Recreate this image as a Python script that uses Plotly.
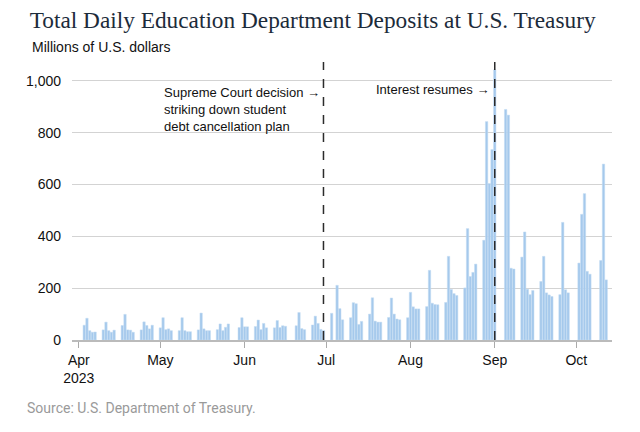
import plotly.graph_objects as go

# --- DATA (millions of U.S. dollars, business days) ---
dates = [
    "2023-04-03", "2023-04-04", "2023-04-05", "2023-04-06", "2023-04-07",
    "2023-04-10", "2023-04-11", "2023-04-12", "2023-04-13", "2023-04-14",
    "2023-04-17", "2023-04-18", "2023-04-19", "2023-04-20", "2023-04-21",
    "2023-04-24", "2023-04-25", "2023-04-26", "2023-04-27", "2023-04-28",
    "2023-05-01", "2023-05-02", "2023-05-03", "2023-05-04", "2023-05-05",
    "2023-05-08", "2023-05-09", "2023-05-10", "2023-05-11", "2023-05-12",
    "2023-05-15", "2023-05-16", "2023-05-17", "2023-05-18", "2023-05-19",
    "2023-05-22", "2023-05-23", "2023-05-24", "2023-05-25", "2023-05-26",
    "2023-05-30", "2023-05-31", "2023-06-01", "2023-06-02",
    "2023-06-05", "2023-06-06", "2023-06-07", "2023-06-08", "2023-06-09",
    "2023-06-12", "2023-06-13", "2023-06-14", "2023-06-15", "2023-06-16",
    "2023-06-20", "2023-06-21", "2023-06-22", "2023-06-23",
    "2023-06-26", "2023-06-27", "2023-06-28", "2023-06-29", "2023-06-30",
    "2023-07-03", "2023-07-05", "2023-07-06", "2023-07-07",
    "2023-07-10", "2023-07-11", "2023-07-12", "2023-07-13", "2023-07-14",
    "2023-07-17", "2023-07-18", "2023-07-19", "2023-07-20", "2023-07-21",
    "2023-07-24", "2023-07-25", "2023-07-26", "2023-07-27", "2023-07-28",
    "2023-07-31", "2023-08-01", "2023-08-02", "2023-08-03", "2023-08-04",
    "2023-08-07", "2023-08-08", "2023-08-09", "2023-08-10", "2023-08-11",
    "2023-08-14", "2023-08-15", "2023-08-16", "2023-08-17", "2023-08-18",
    "2023-08-21", "2023-08-22", "2023-08-23", "2023-08-24", "2023-08-25",
    "2023-08-28", "2023-08-29", "2023-08-30", "2023-08-31", "2023-09-01",
    "2023-09-05", "2023-09-06", "2023-09-07", "2023-09-08",
    "2023-09-11", "2023-09-12", "2023-09-13", "2023-09-14", "2023-09-15",
    "2023-09-18", "2023-09-19", "2023-09-20", "2023-09-21", "2023-09-22",
    "2023-09-25", "2023-09-26", "2023-09-27", "2023-09-28",
    "2023-10-02", "2023-10-03", "2023-10-04", "2023-10-05", "2023-10-06",
    "2023-10-10", "2023-10-11", "2023-10-12",
]
deposits = [
    57, 84, 36, 30, 31,
    39, 69, 36, 30, 38,
    56, 99, 39, 38, 30,
    39, 70, 56, 43, 57,
    47, 86, 40, 43, 36,
    36, 86, 36, 32, 32,
    39, 104, 43, 36, 36,
    40, 62, 36, 49, 62,
    48, 86, 51, 51,
    52, 77, 40, 64, 47,
    47, 75, 48, 55, 53,
    55, 106, 44, 40,
    58, 92, 64, 41, 37,
    103, 211, 121, 78,
    86, 144, 140, 60, 72,
    100, 163, 73, 69, 69,
    87, 162, 100, 81, 78,
    86, 184, 128, 120, 120,
    129, 269, 142, 137, 136,
    145, 323, 195, 179, 172,
    201, 430, 245, 261, 293,
    385, 843, 604, 735, 1043,
    890, 868, 277, 274,
    320, 417, 196, 175, 191,
    226, 323, 182, 174, 168,
    175, 454, 194, 182,
    297, 485, 565, 265, 254,
    307, 679, 232,
]

month_ticks = ["2023-04-01", "2023-05-01", "2023-06-01", "2023-07-01",
               "2023-08-01", "2023-09-01", "2023-10-01"]
month_labels = ["Apr<br>2023", "May", "Jun", "Jul", "Aug", "Sep", "Oct"]
y_ticks = [0, 200, 400, 600, 800, 1000]
y_labels = ["0", "200", "400", "600", "800", "1,000"]

events = ["2023-06-30", "2023-09-01"]

# --- FIGURE ---
fig = go.Figure(go.Bar(
    x=dates, y=deposits,
    marker=dict(color="#a5c9ec", line=dict(color="#c4dcf3", width=0.5)),
))

for d in events:
    fig.add_shape(type="line", xref="x", yref="paper", x0=d, x1=d, y0=0, y1=1,
                  line=dict(color="#2b2b2b", width=1.5, dash="dash"), layer="above")

fig.add_annotation(xref="paper", yref="paper", x=0.1667, y=0.925,
                   xanchor="left", yanchor="top", align="left", showarrow=False,
                   text="Supreme Court decision \u2192<br>striking down student<br>debt cancellation plan",
                   font=dict(family="Liberation Sans, Arial", size=13, color="#111"))
fig.add_annotation(xref="paper", yref="paper", x=0.776, y=0.9,
                   xanchor="right", yanchor="middle", showarrow=False,
                   text="Interest resumes \u2192",
                   font=dict(family="Liberation Sans, Arial", size=13, color="#111"))

fig.add_annotation(xref="paper", yref="paper", x=-0.078, y=1.054,
                   xanchor="left", yanchor="middle", showarrow=False,
                   text="Millions of U.S. dollars",
                   font=dict(family="Liberation Sans, Arial", size=14, color="#111"))
fig.add_annotation(xref="paper", yref="paper", x=-0.087, y=-0.245,
                   xanchor="left", yanchor="middle", showarrow=False,
                   text="Source: U.S. Department of Treasury.",
                   font=dict(family="Roboto", size=14, color="#9a9a9a"))

# page body adds an 8px offset, so margins are shifted to compensate
fig.update_layout(
    width=640, height=432,
    margin=dict(l=64, r=36, t=54, b=100),
    paper_bgcolor="white", plot_bgcolor="white",
    bargap=0.12, showlegend=False,
    title=dict(text="Total Daily Education Department Deposits at U.S. Treasury",
               x=0.034, xanchor="left", y=0.972, yanchor="middle",
               font=dict(family="Liberation Serif", size=23.3, color="#1c2b3a")),
    xaxis=dict(range=["2023-03-29 12:00", "2023-10-14 03:00"],
               tickvals=month_ticks, ticktext=month_labels,
               ticks="outside", ticklen=6, tickcolor="#aaa",
               showline=True, linecolor="#bbb", linewidth=1.5,
               showgrid=False, zeroline=False,
               tickfont=dict(family="Liberation Sans, Arial", size=14, color="#111")),
    yaxis=dict(range=[0, 1073], tickvals=y_ticks, ticktext=y_labels,
               showgrid=True, gridcolor="#d3d3d3", gridwidth=1.2,
               zeroline=False, ticks="", ticklabelstandoff=10,
               tickfont=dict(family="Liberation Sans, Arial", size=14, color="#111")),
)

fig.write_html("out.html")
